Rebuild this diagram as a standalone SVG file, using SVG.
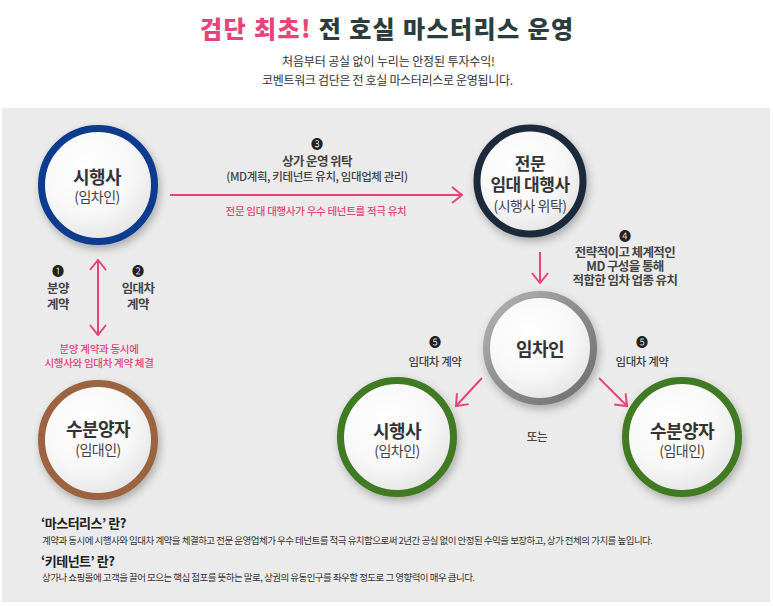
<svg xmlns="http://www.w3.org/2000/svg" width="773" height="606" viewBox="0 0 773 606">
<defs>
<style>
text{font-family:"Noto Sans CJK KR","Noto Sans",sans-serif;fill:#333}
.ttl{font-size:24px;font-weight:900}
.sub{font-size:12px;fill:#333}
.nm{font-size:18px;font-weight:700;fill:#333;text-anchor:middle;letter-spacing:-0.5px}
.nm2{font-size:14px;fill:#444;text-anchor:middle;letter-spacing:-0.5px}
.lb{font-size:12.5px;font-weight:700;fill:#444;text-anchor:middle;letter-spacing:-0.6px}
.lbs{font-size:11.5px;font-weight:500;fill:#444;text-anchor:middle;letter-spacing:-0.4px}
.pk{font-size:10.5px;font-weight:500;fill:#e8437a;text-anchor:middle;letter-spacing:-0.3px}
.num{font-size:12px;fill:#222;text-anchor:middle}
.ft{font-size:13px;font-weight:700;fill:#222;letter-spacing:-0.5px}
.fd{font-size:9.5px;fill:#333}
.ar{fill:none;stroke:#e8437a;stroke-width:2}
.face{fill:url(#face)}
</style>
<radialGradient id="face" cx="0.4" cy="0.35" r="0.7">
<stop offset="0" stop-color="#ffffff"/>
<stop offset="0.6" stop-color="#f7f7f7"/>
<stop offset="1" stop-color="#e2e2e2"/>
</radialGradient>
<linearGradient id="gGray" x1="0" y1="0" x2="1" y2="1">
<stop offset="0" stop-color="#b5b5b5"/>
<stop offset="0.5" stop-color="#8c8c8c"/>
<stop offset="1" stop-color="#6e6e6e"/>
</linearGradient>
<filter id="sh" x="-30%" y="-30%" width="160%" height="160%">
<feDropShadow dx="2" dy="4" stdDeviation="4" flood-color="#000" flood-opacity="0.28"/>
</filter>
<marker id="ah" viewBox="0 0 12 18" markerWidth="12" markerHeight="18" refX="11" refY="9" orient="auto-start-reverse" markerUnits="userSpaceOnUse">
<path d="M1,1 L11,9 L1,17" fill="none" stroke="#e8437a" stroke-width="2"/>
</marker>
</defs>
<rect x="0" y="0" width="773" height="606" fill="#ffffff"/>
<rect x="2" y="108" width="768" height="494" fill="#ebebeb"/>

<text class="ttl" x="200" y="38" textLength="373"><tspan fill="#e8437a">검단 최초!</tspan><tspan fill="#2c3d3d"> 전 호실 마스터리스 운영</tspan></text>
<text class="sub" x="282" y="66" textLength="213">처음부터 공실 없이 누리는 안정된 투자수익!</text>
<text class="sub" x="262" y="85" textLength="251">코벤트워크 검단은 전 호실 마스터리스로 운영됩니다.</text>

<g id="connectors">
<line class="ar" x1="170" y1="195" x2="462" y2="195" marker-end="url(#ah)"/>
<line class="ar" x1="98" y1="260" x2="98" y2="335" marker-start="url(#ah)" marker-end="url(#ah)"/>
<line class="ar" x1="540" y1="252" x2="540" y2="283" marker-end="url(#ah)"/>
<line class="ar" x1="482" y1="378" x2="456" y2="406" marker-end="url(#ah)"/>
<line class="ar" x1="599" y1="378" x2="627" y2="406" marker-end="url(#ah)"/>
<text class="num" x="317" y="149">❸</text>
<text class="lb" x="317" y="166">상가 운영 위탁</text>
<text class="lbs" x="317" y="181">(MD계획, 키테넌트 유치, 임대업체 관리)</text>
<text class="pk" x="316" y="215">전문 임대 대행사가 우수 테넌트를 적극 유치</text>
<text class="num" x="58" y="276">❶</text>
<text class="lb" x="58" y="293">분양</text>
<text class="lb" x="58" y="309">계약</text>
<text class="num" x="138" y="276">❷</text>
<text class="lb" x="138" y="293">임대차</text>
<text class="lb" x="138" y="309">계약</text>
<text class="pk" x="99" y="353">분양 계약과 동시에</text>
<text class="pk" x="99" y="367">시행사와 임대차 계약 체결</text>
<text class="num" x="625" y="241">❹</text>
<text class="lb" x="625" y="257">전략적이고 체계적인</text>
<text class="lb" x="625" y="271">MD 구성을 통해</text>
<text class="lb" x="625" y="285">적합한 임차 업종 유치</text>
<text class="num" x="435" y="347">❺</text>
<text class="lbs" x="435" y="366">임대차 계약</text>
<text class="num" x="642" y="347">❺</text>
<text class="lbs" x="642" y="366">임대차 계약</text>
<text class="lbs" x="537" y="441">또는</text>
</g>

<g id="node-developer">
<circle cx="98" cy="185" r="56.5" class="face" stroke="#0b3a8e" stroke-width="7" filter="url(#sh)"/>
<text class="nm" x="97" y="184">시행사</text>
<text class="nm2" x="97" y="202">(임차인)</text>
</g>
<g id="node-agency">
<circle cx="530" cy="181" r="53" class="face" stroke="#1f2b3a" stroke-width="7" filter="url(#sh)"/>
<text class="nm" x="530" y="170" style="font-size:17px">전문</text>
<text class="nm" x="530" y="191" style="font-size:17px">임대 대행사</text>
<text class="nm2" x="530" y="211">(시행사 위탁)</text>
</g>
<g id="node-tenant">
<circle cx="540" cy="348" r="53.5" class="face" stroke="url(#gGray)" stroke-width="7" filter="url(#sh)"/>
<text class="nm" x="540" y="356">임차인</text>
</g>
<g id="node-developer2">
<circle cx="397" cy="437" r="56.5" class="face" stroke="#3f7a22" stroke-width="7" filter="url(#sh)"/>
<text class="nm" x="397" y="438">시행사</text>
<text class="nm2" x="397" y="456">(임차인)</text>
</g>
<g id="node-buyer2">
<circle cx="682" cy="437" r="56.5" class="face" stroke="#3f7a22" stroke-width="7" filter="url(#sh)"/>
<text class="nm" x="682" y="438">수분양자</text>
<text class="nm2" x="682" y="456">(임대인)</text>
</g>
<g id="node-buyer">
<circle cx="98" cy="440" r="56.5" class="face" stroke="#9b6440" stroke-width="7" filter="url(#sh)"/>
<text class="nm" x="98" y="436">수분양자</text>
<text class="nm2" x="98" y="455">(임대인)</text>
</g>

<text class="ft" x="41" y="528">‘마스터리스’ 란?</text>
<text class="fd" x="42" y="544" textLength="611">계약과 동시에 시행사와 임대차 계약을 체결하고 전문 운영업체가 우수 테넌트를 적극 유치함으로써 2년간 공실 없이 안정된 수익을 보장하고, 상가 전체의 가치를 높입니다.</text>
<text class="ft" x="41" y="566">‘키테넌트’ 란?</text>
<text class="fd" x="42" y="581" textLength="433">상가나 쇼핑몰에 고객을 끌어 모으는 핵심 점포를 뜻하는 말로, 상권의 유동인구를 좌우할 정도로 그 영향력이 매우 큽니다.</text>
</svg>
